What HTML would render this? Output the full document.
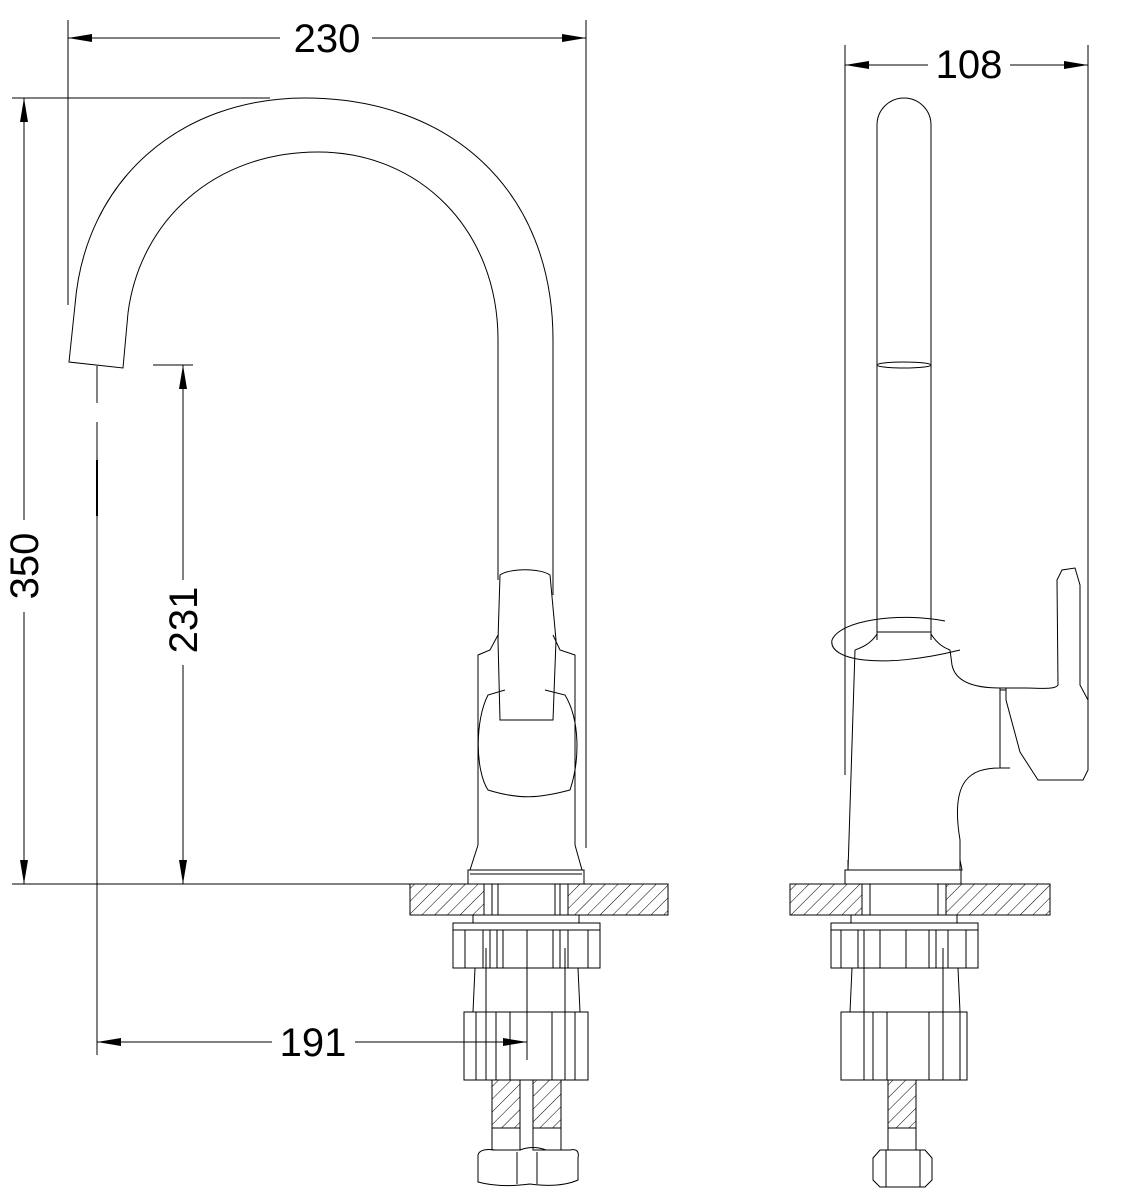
<!DOCTYPE html>
<html><head><meta charset="utf-8"><style>html,body{margin:0;padding:0;background:#fff}svg{display:block}</style></head>
<body>
<svg width="1146" height="1200" viewBox="0 0 1146 1200" xmlns="http://www.w3.org/2000/svg" font-family="Liberation Sans, sans-serif">
<defs>
<pattern id="h" width="9" height="9" patternUnits="userSpaceOnUse" patternTransform="rotate(45)">
<line x1="0" y1="0" x2="0" y2="9" stroke="#000" stroke-width="1"/>
</pattern>
<marker id="a" viewBox="0 0 24 8" refX="24" refY="4" markerWidth="24" markerHeight="8" markerUnits="userSpaceOnUse" orient="auto"><path d="M0,0L24,4L0,8z" fill="#000"/></marker>
</defs>
<g stroke="#000" stroke-width="1" fill="none">
<!-- 230 dimension -->
<line x1="68" y1="20" x2="68" y2="305"/>
<line x1="586" y1="20" x2="586" y2="848"/>
<line x1="280" y1="38" x2="68" y2="38" marker-end="url(#a)"/>
<line x1="372" y1="38" x2="586" y2="38" marker-end="url(#a)"/>
<!-- 350 -->
<line x1="12" y1="98" x2="270" y2="98"/>
<line x1="12" y1="884" x2="410" y2="884"/>
<line x1="24" y1="520" x2="24" y2="98" marker-end="url(#a)"/>
<line x1="24" y1="612" x2="24" y2="884" marker-end="url(#a)"/>
<!-- 231 -->
<line x1="153" y1="365" x2="193" y2="365"/>
<line x1="183" y1="580" x2="183" y2="365" marker-end="url(#a)"/>
<line x1="183" y1="665" x2="183" y2="884" marker-end="url(#a)"/>
<!-- 191 -->
<line x1="97" y1="366" x2="97" y2="403"/>
<line x1="97" y1="422" x2="97" y2="1055"/>
<line x1="97" y1="460" x2="97" y2="516" stroke-width="2"/>
<line x1="272" y1="1042" x2="97" y2="1042" marker-end="url(#a)"/>
<line x1="355" y1="1042" x2="527" y2="1042" marker-end="url(#a)"/>
<line x1="527" y1="1030" x2="527" y2="1060"/>
<!-- spout -->
<path d="M75,305 C85,180 180,98 305,98 C450,98 553,190 553,340 L553,595"/>
<path d="M128,313 C140,220 215,152 318,152 C420,152 498,230 498,340 L498,580"/>
<path d="M75,305 L69,362 L123,368 L128,313"/>
<!-- handle/lever front -->
<path d="M500,575 C510,568 540,568 550,575 L556,640 L553,720 L500,720 L498,640 Z"/>
<path d="M498,635 L490,650 L478,655 L478,845 M553,635 L560,650 L575,655 L575,845"/>
<path d="M505,690 L488,695 C475,720 475,770 488,790 C520,800 540,798 570,790 C580,760 580,720 565,695 L545,690"/>
<path d="M478,845 L470,870 L582,870 L575,845"/>
<rect x="468" y="870" width="116" height="14"/>
<line x1="470" y1="874" x2="582" y2="874"/>
<!-- counter left -->
<rect x="410" y="884" width="258" height="31" fill="url(#h)"/>
<rect x="484" y="884" width="84" height="31" fill="#fff"/>
<line x1="492" y1="884" x2="492" y2="915"/><line x1="560" y1="884" x2="560" y2="915"/>
<line x1="498" y1="884" x2="498" y2="915"/><line x1="555" y1="884" x2="555" y2="915"/>
<rect x="473" y="915" width="106" height="8"/>
<rect x="453" y="923" width="147" height="45"/>
<line x1="453" y1="930" x2="600" y2="930"/>
<path d="M465,930V968M483,930V968M490,930V968M497,930V968M503,930V968M527,930V968M553,930V968M560,930V968M568,930V968M588,930V968"/>
<path d="M475,968 L473,1012 M578,968 L580,1012"/>
<path d="M486,948 V1080 M565,948 V1080 M527,930 V1030"/>
<rect x="464" y="1012" width="124" height="68"/>
<path d="M476,1012V1080M496,1012V1080M510,1012V1080M552,1012V1080M575,1012V1080"/>
<!-- hoses left -->
<rect x="492" y="1080" width="28" height="48" fill="url(#h)"/>
<rect x="533" y="1080" width="28" height="48" fill="url(#h)"/>
<rect x="492" y="1128" width="28" height="22"/>
<rect x="533" y="1128" width="28" height="22"/>
<path d="M478,1155 Q480,1148 495,1150 L520,1150 Q533,1145 546,1150 L570,1150 Q580,1148 578,1158 L578,1180 Q560,1188 530,1184 Q500,1188 478,1182 Z"/>
<line x1="517" y1="1152" x2="517" y2="1184"/><line x1="537" y1="1152" x2="537" y2="1184"/>

<!-- RIGHT VIEW -->
<line x1="845" y1="45" x2="845" y2="775"/>
<line x1="1088" y1="45" x2="1088" y2="705"/>
<line x1="928" y1="65" x2="845" y2="65" marker-end="url(#a)"/>
<line x1="1010" y1="65" x2="1088" y2="65" marker-end="url(#a)"/>
<path d="M877,640 L877,125 A27,27 0 0 1 931,125 L931,640"/>
<ellipse cx="904" cy="365" rx="27" ry="3"/>
<path d="M945,621 C900,612 840,620 832,640 C828,660 880,670 960,650"/>
<line x1="877" y1="632" x2="931" y2="632"/>
<path d="M877,634 C870,645 860,648 855,650 M931,634 C938,645 945,648 950,650"/>
<path d="M855,650 L848,870 M950,650 L952,665 C955,680 970,688 1000,688 L1000,768 C970,768 950,780 960,840 L960,870"/>
<path d="M1000,688 L1025,688 C1040,688 1055,690 1058,685 L1057,580 L1062,570 L1075,568 L1080,585 L1080,685 L1088,700 L1088,770 L1083,780 L1038,780 L1020,752 L1006,700 L1006,688"/>
<line x1="1000" y1="690" x2="1006" y2="690"/><line x1="1000" y1="768" x2="1010" y2="768"/>
<path d="M848,860 L848,870 L962,870 L960,860"/>
<rect x="845" y="870" width="116" height="14"/>
<rect x="790" y="884" width="260" height="31" fill="url(#h)"/>
<rect x="862" y="884" width="84" height="31" fill="#fff"/>
<line x1="870" y1="884" x2="870" y2="915"/><line x1="938" y1="884" x2="938" y2="915"/>
<rect x="851" y="915" width="106" height="8"/>
<rect x="831" y="923" width="147" height="45"/>
<line x1="831" y1="930" x2="978" y2="930"/>
<path d="M841,930V968M858,930V968M864,930V968M880,930V968M906,930V968M929,930V968M936,930V968M948,930V968M966,930V968"/>
<path d="M852,968 L850,1012 M958,968 L960,1012 M864,948V1080 M943,948V1080"/>
<rect x="841" y="1012" width="126" height="68"/>
<path d="M873,1012V1080M887,1012V1080M929,1012V1080M960,1012V1080"/>
<rect x="888" y="1080" width="28" height="48" fill="url(#h)"/>
<rect x="888" y="1128" width="28" height="22"/>
<path d="M873,1158 L880,1150 L925,1150 L932,1158 L932,1180 L925,1187 L880,1187 L873,1180 Z"/>
<line x1="886" y1="1150" x2="886" y2="1187"/><line x1="920" y1="1150" x2="920" y2="1187"/>
</g>
<g font-size="40" fill="#000" text-anchor="middle">
<text x="327" y="52">230</text>
<text x="969" y="78">108</text>
<text x="313" y="1056">191</text>
<text transform="translate(38,566) rotate(-90)">350</text>
<text transform="translate(197,620) rotate(-90)">231</text>
</g>
</svg>
</body></html>
